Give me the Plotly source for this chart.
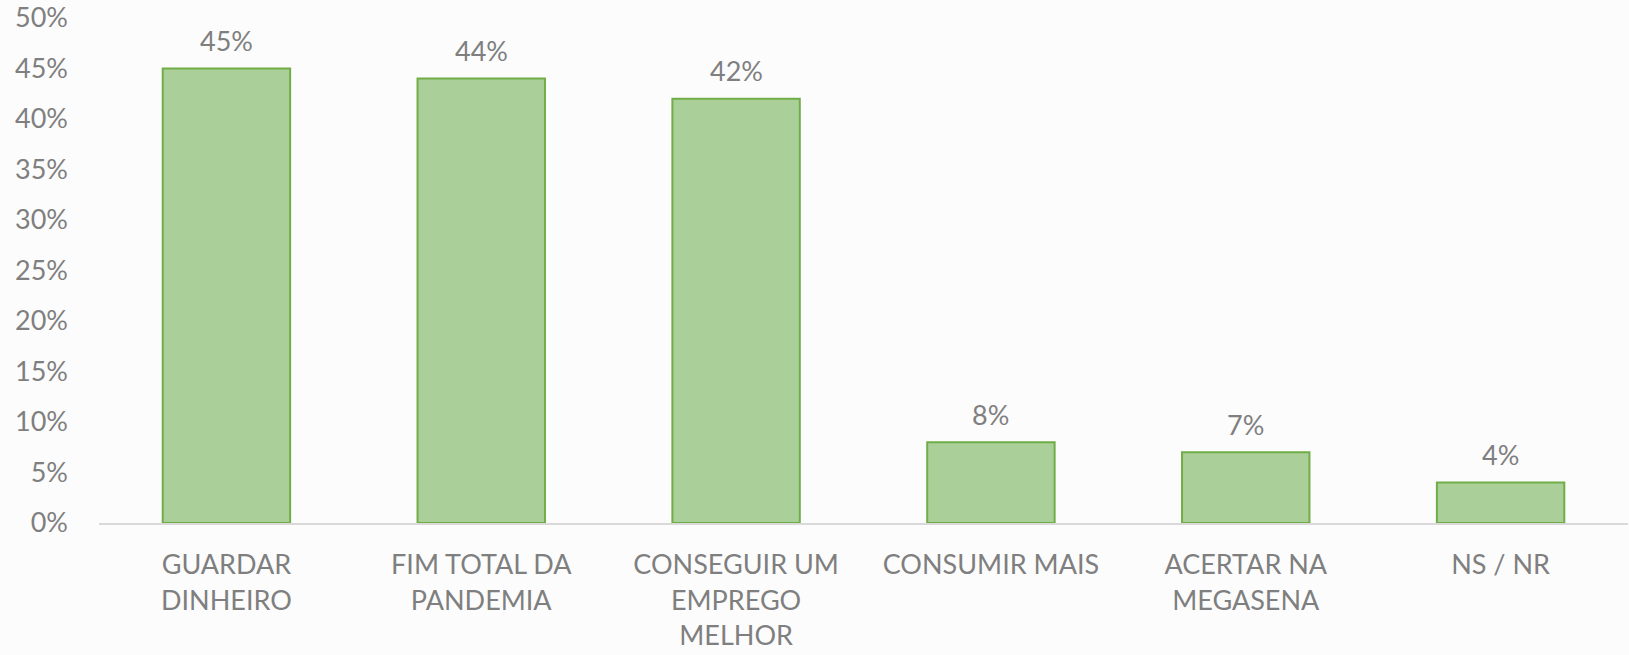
import plotly.graph_objects as go

categories = ["GUARDAR<br>DINHEIRO", "FIM TOTAL DA<br>PANDEMIA", "CONSEGUIR UM<br>EMPREGO<br>MELHOR",
              "CONSUMIR MAIS", "ACERTAR NA<br>MEGASENA", "NS / NR"]
values = [45, 44, 42, 8, 7, 4]
value_labels = ["45%", "44%", "42%", "8%", "7%", "4%"]
y_ticks = [0, 5, 10, 15, 20, 25, 30, 35, 40, 45, 50]
y_tick_labels = ["0%", "5%", "10%", "15%", "20%", "25%", "30%", "35%", "40%", "45%", "50%"]

FONT = "Lato"
SIZE = 27
GRAY = "#7f7f7f"

fig = go.Figure()
fig.add_trace(go.Bar(
    x=categories, y=values,
    marker=dict(color="#aacf98", line=dict(color="#70ad47", width=2)),
    width=0.5, hoverinfo="skip",
))
for c, v, t in zip(categories, values, value_labels):
    fig.add_annotation(x=c, y=v, text=t, showarrow=False, yshift=28,
                       font=dict(family=FONT, size=SIZE, color=GRAY))

fig.update_layout(
    width=1629, height=655,
    margin=dict(l=99, r=1, t=18, b=132),
    paper_bgcolor="#fcfcfd", plot_bgcolor="rgba(0,0,0,0)",
    showlegend=False,
    font=dict(family=FONT, size=SIZE, color=GRAY),
)
fig.update_yaxes(range=[0, 50], tickvals=y_ticks, ticktext=y_tick_labels,
                 showgrid=False, zeroline=False, showline=False,
                 ticks="", ticklabelstandoff=30, automargin=False,
                 tickfont=dict(family=FONT, size=SIZE, color=GRAY))
fig.update_xaxes(showline=True, linecolor="#d9d9d9", linewidth=2, ticks="",
                 ticklabelstandoff=17, automargin=False,
                 tickfont=dict(family=FONT, size=SIZE, color=GRAY))
fig.write_html("out.html", config={"displayModeBar": False},
               post_script="document.body.style.margin='0';document.body.style.overflow='hidden';")
